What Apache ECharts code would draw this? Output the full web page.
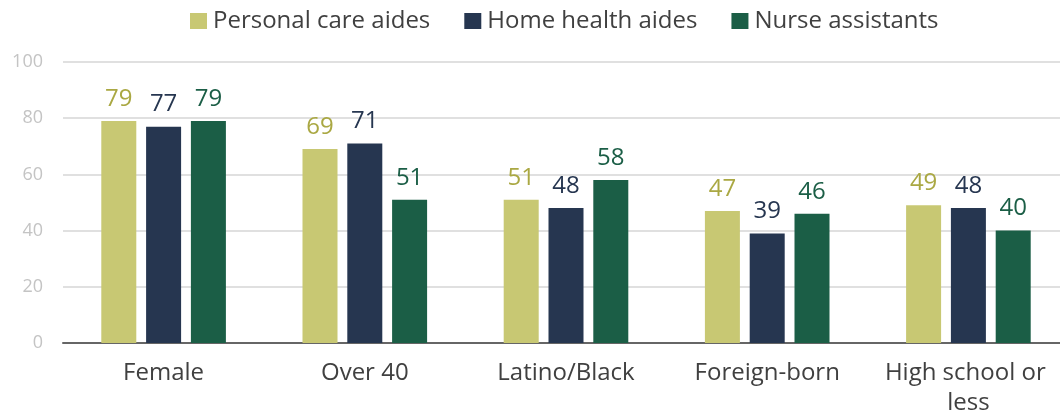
<!DOCTYPE html>
<html>
<head>
<meta charset="utf-8">
<script src="https://cdn.jsdelivr.net/npm/echarts@6/dist/echarts.min.js"></script>
<style>
  html, body { margin: 0; padding: 0; background: #fff; }
  #chart { width: 1060px; height: 414px; }
</style>
</head>
<body>
<div id="chart"></div>
<script>
// Share of each direct-care workforce with the given characteristic (%)
const categories = ['Female', 'Over 40', 'Latino/Black', 'Foreign-born', 'High school or less'];
const personalCareAides = [79, 69, 51, 47, 49];
const homeHealthAides = [77, 71, 48, 39, 48];
const nurseAssistants = [79, 51, 58, 46, 40];
const yTicks = [0, 20, 40, 60, 80, 100];

const FONT = '"Open Sans", Lato, sans-serif';

function barSeries(name, data, color, labelColor) {
  return {
    name: name,
    type: 'bar',
    data: data,
    barWidth: 35,
    barGap: '28%',
    itemStyle: { color: color },
    label: {
      show: true,
      position: 'top',
      distance: 10,
      color: labelColor,
      fontSize: 24,
      fontFamily: FONT
    }
  };
}

const chart = echarts.init(document.getElementById('chart'), null, { renderer: 'canvas' });
chart.setOption({
  animation: false,
  legend: {
    top: 4,
    left: 185,
    itemWidth: 17,
    itemHeight: 16,
    itemGap: 34,
    icon: 'rect',
    textStyle: { color: '#404040', fontSize: 24, fontFamily: FONT, padding: [0, 0, 0, 1] },
    data: ['Personal care aides', 'Home health aides', 'Nurse assistants']
  },
  grid: { left: 63, right: -9, top: 62, bottom: 71, outerBoundsMode: 'none' },
  xAxis: {
    type: 'category',
    data: categories,
    axisLine: { show: true, lineStyle: { color: '#666', width: 2 } },
    axisTick: { show: false },
    axisLabel: {
      interval: 0,
      color: '#404040',
      fontSize: 24,
      fontFamily: FONT,
      margin: 15,
      lineHeight: 30,
      width: 185,
      overflow: 'break'
    }
  },
  yAxis: {
    type: 'value',
    min: yTicks[0],
    max: yTicks[yTicks.length - 1],
    interval: 20,
    axisLine: { show: false },
    axisTick: { show: false },
    axisLabel: { color: '#c4c4c4', fontSize: 18, fontFamily: FONT, margin: 20 },
    splitLine: { lineStyle: { color: '#d6d6d6', width: 1.5 } }
  },
  series: [
    barSeries('Personal care aides', personalCareAides, '#c8c873', '#aaa843'),
    barSeries('Home health aides', homeHealthAides, '#263650', '#263650'),
    barSeries('Nurse assistants', nurseAssistants, '#1b5e46', '#1b5e46')
  ]
});
</script>
</body>
</html>
